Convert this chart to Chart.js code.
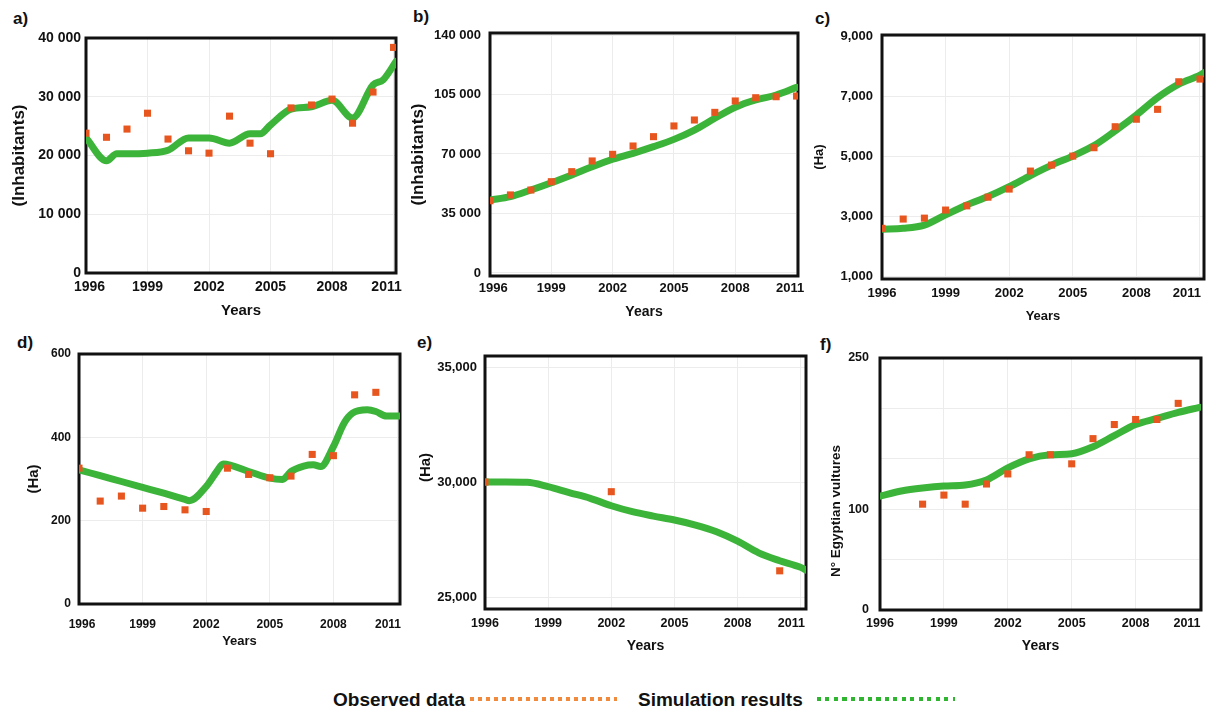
<!DOCTYPE html>
<html>
<head>
<meta charset="utf-8">
<script src="https://cdn.jsdelivr.net/npm/chart.js@4.4.1/dist/chart.umd.min.js"></script>
<style>
  body { margin: 0; background: #fff; width: 1210px; height: 710px; position: relative; overflow: hidden; font-family: 'Liberation Sans', Arial, sans-serif; }
  canvas { position: absolute; }
  .tag { position: absolute; font: bold 17px 'Liberation Sans', Arial, sans-serif; color: #111; }
  .leg { position: absolute; font: bold 19px 'Liberation Sans', Arial, sans-serif; line-height: 19px; color: #111; white-space: nowrap; }
  .dots { position: absolute; height: 4px; }
</style>
</head>
<body>
<div class="tag" style="left:13px; top:9px;">a)</div>
<div class="tag" style="left:413px; top:7px;">b)</div>
<div class="tag" style="left:815px; top:9px;">c)</div>
<div class="tag" style="left:17px; top:333px;">d)</div>
<div class="tag" style="left:417px; top:333px;">e)</div>
<div class="tag" style="left:820px; top:335px;">f)</div>

<canvas id="ca" width="420" height="330" style="left:0; top:0;"></canvas>
<canvas id="cb" width="420" height="330" style="left:405px; top:0;"></canvas>
<canvas id="cc" width="400" height="330" style="left:810px; top:0;"></canvas>
<canvas id="cd" width="420" height="335" style="left:0; top:330px;"></canvas>
<canvas id="ce" width="420" height="335" style="left:405px; top:330px;"></canvas>
<canvas id="cf" width="400" height="335" style="left:810px; top:330px;"></canvas>

<div class="leg" style="left:333px; top:690px;">Observed data</div>
<div class="dots" style="left:470px; top:697px; width:147px; background: repeating-linear-gradient(to right, #f08a3c 0 4px, transparent 4px 8px);"></div>
<div class="leg" style="left:638px; top:690px;">Simulation results</div>
<div class="dots" style="left:817px; top:697px; width:138px; background: repeating-linear-gradient(to right, #2fb52f 0 4px, transparent 4px 8.5px);"></div>

<script>
'use strict';

const ORANGE = '#e8561f';
const GREEN = '#3cb43a';

// x ticks shared by every panel
const yearTicks = [1996, 1999, 2002, 2005, 2008, 2011];

// a) inhabitants
const obsYearsA = [1996, 1997, 1998, 1999, 2000, 2001, 2002, 2003, 2004, 2005, 2006, 2007, 2008, 2009, 2010, 2011];
const obsA = [23800, 23100, 24500, 27200, 22800, 20800, 20400, 26700, 22100, 20300, 28100, 28600, 29600, 25500, 30800, 38400];
const simYearsA = [1996, 1997, 1997.5, 1998, 1999, 2000, 2001, 2002, 2003, 2004, 2004.5, 2005, 2006, 2007, 2008, 2009, 2010, 2010.5, 2011.12];
const simA = [23000, 19100, 20300, 20300, 20400, 20900, 23000, 23000, 22100, 23700, 23700, 25200, 27900, 28300, 29400, 26400, 32000, 32900, 36000];
const yTicksA = [0, 10000, 20000, 30000, 40000];

// b) inhabitants
const obsYearsB = [1996, 1997, 1998, 1999, 2000, 2001, 2002, 2003, 2004, 2005, 2006, 2007, 2008, 2009, 2010, 2011];
const obsB = [42500, 45900, 48800, 53700, 59600, 65900, 69800, 74700, 80200, 86500, 90000, 94500, 101200, 103100, 103700, 104100];
const simYearsB = [1996, 1997, 1998, 1999, 2000, 2001, 2002, 2003, 2004, 2005, 2006, 2007, 2008, 2009, 2010, 2011];
const simB = [42900, 44900, 48800, 53100, 57700, 62500, 66900, 70400, 74300, 78600, 84100, 91000, 97500, 101800, 104700, 109200];
const yTicksB = [0, 35000, 70000, 105000, 140000];

// c) hectares
const obsYearsC = [1996, 1997, 1998, 1999, 2000, 2001, 2002, 2003, 2004, 2005, 2006, 2007, 2008, 2009, 2010, 2011];
const obsC = [2610, 2920, 2950, 3220, 3360, 3650, 3920, 4520, 4720, 5020, 5300, 6000, 6250, 6580, 7500, 7590];
const simYearsC = [1996, 1997, 1998, 1999, 2000, 2001, 2002, 2003, 2004, 2005, 2006, 2007, 2008, 2009, 2010, 2011, 2011.19];
const simC = [2580, 2610, 2720, 3060, 3390, 3670, 4000, 4370, 4720, 5020, 5370, 5860, 6390, 6970, 7420, 7720, 7800];
const yTicksC = [1000, 3000, 5000, 7000, 9000];

// d) hectares
const obsYearsD = [1996, 1997, 1998, 1999, 2000, 2001, 2002, 2003, 2004, 2005, 2006, 2007, 2008, 2009, 2010];
const obsD = [326, 247, 259, 230, 234, 226, 222, 326, 311, 303, 307, 359, 356, 502, 508];
const simYearsD = [1996, 1997, 1998, 1999, 2000, 2001, 2001.2, 2002, 2002.5, 2002.8, 2004, 2005, 2005.6, 2006, 2006.6, 2007.05, 2007.4, 2008, 2008.5, 2008.9, 2009.6, 2010, 2010.5, 2011.14];
const simD = [322, 308, 294, 280, 266, 251, 248, 282, 318, 336, 318, 302, 299, 318, 331, 334, 330, 378, 434, 458, 466, 462, 451, 451];
const yTicksD = [0, 200, 400, 600];

// e) hectares
const obsYearsE = [1996, 2002, 2010];
const obsE = [30000, 29580, 26140];
const simYearsE = [1996, 1997, 1998, 1999, 2000, 2001, 2002, 2003, 2004, 2005, 2006, 2007, 2008, 2009, 2010, 2011, 2011.25];
const simE = [30000, 30000, 29990, 29800, 29540, 29290, 28970, 28710, 28520, 28350, 28130, 27840, 27430, 26920, 26580, 26290, 26170];
const yTicksE = [25000, 30000, 35000];

// f) Egyptian vultures
const obsYearsF = [1998, 1999, 2000, 2001, 2002, 2003, 2004, 2005, 2006, 2007, 2008, 2009, 2010];
const obsF = [105, 114, 105, 125, 135, 154, 154, 145, 170, 184, 189, 189, 205];
const simYearsF = [1996, 1997, 1998, 1999, 2000, 2001, 2002, 2003, 2004, 2005, 2006, 2007, 2008, 2009, 2010, 2011];
const simF = [113, 118, 121, 123, 124, 129, 141, 150, 154, 155, 162, 173, 184, 190, 196, 201];
const yTicksF = [0, 50, 100, 150, 200, 250];
const yLabelsF = [0, 100, 250];

const FONT = "'Liberation Sans', Arial, sans-serif";
const EN = '\u2002';

function pairs(xs, ys) {
  return xs.map((x, i) => ({ x: x, y: ys[i] }));
}

function fmt(v, sep) {
  const s = String(v);
  if (!sep) return s;
  return s.replace(/\B(?=(\d{3})+(?!\d))/g, sep);
}

// end year labels sit a little inside the frame, as in the original figure
function yearLabel(v, p) {
  if (v === yearTicks[0]) return EN.repeat(p.firstIn) + v;
  if (v === yearTicks[yearTicks.length - 1]) return v + EN.repeat(p.lastIn);
  return String(v);
}

// thick black frame round the plot area, drawn under the marks
const framePlugin = {
  id: 'frame',
  beforeDatasetsDraw(chart) {
    const a = chart.chartArea;
    const c = chart.ctx;
    c.save();
    c.strokeStyle = '#111';
    c.lineWidth = 3;
    c.strokeRect(a.left, a.top, a.right - a.left, a.bottom - a.top);
    c.restore();
  }
};

function panel(id, p) {
  const ctx = document.getElementById(id).getContext('2d');
  return new Chart(ctx, {
    type: 'scatter',
    data: {
      datasets: [{
        label: 'Observed data',
        data: pairs(p.obsX, p.obsY),
        pointStyle: 'rect',
        pointRadius: 5,
        backgroundColor: ORANGE,
        borderWidth: 0,
        order: 0
      }, {
        label: 'Simulation results',
        data: pairs(p.simX, p.simY),
        showLine: true,
        borderColor: GREEN,
        borderWidth: 7,
        pointRadius: 0,
        cubicInterpolationMode: 'monotone',
        borderCapStyle: 'round',
        borderJoinStyle: 'round',
        order: 1
      }]
    },
    options: {
      animation: false,
      responsive: false,
      devicePixelRatio: 1,
      layout: { padding: { left: 0, top: p.top, right: p.right, bottom: 0 } },
      plugins: { legend: { display: false }, tooltip: { enabled: false } },
      scales: {
        x: {
          type: 'linear',
          min: 1996,
          max: p.xMax,
          afterBuildTicks: s => { s.ticks = yearTicks.map(v => ({ value: v })); },
          afterFit: s => { s.height = p.xh; s.paddingLeft = 0; s.paddingRight = 0; },
          grid: { color: '#ececec', lineWidth: 1, drawTicks: false },
          border: { display: false },
          ticks: {
            color: '#111', padding: p.xPad, maxRotation: 0, autoSkip: false,
            font: { family: FONT, size: p.tickSize, weight: 'bold' },
            callback: v => yearLabel(v, p)
          },
          title: {
            display: true, text: 'Years', color: '#111',
            font: { family: FONT, size: p.xTitleSize, weight: 'bold' },
            padding: { top: 0, bottom: p.xTitlePad }
          }
        },
        y: {
          type: 'linear',
          min: p.yMin,
          max: p.yMax,
          afterBuildTicks: s => { s.ticks = p.yTicks.map(v => ({ value: v })); },
          afterFit: s => { s.width = p.yw; s.paddingTop = 0; s.paddingBottom = 0; },
          grid: { color: '#ececec', lineWidth: 1, drawTicks: false },
          border: { display: false },
          ticks: {
            color: '#111', padding: p.yPad, autoSkip: false,
            font: { family: FONT, size: p.yTickSize, weight: 'bold' },
            callback: v => (p.yLabels && p.yLabels.indexOf(v) < 0) ? '' : fmt(v, p.sep)
          },
          title: {
            display: true, text: p.yTitle, color: '#111',
            font: { family: FONT, size: p.yTitleSize, weight: 'bold' },
            padding: { top: p.yTitlePad, bottom: 0 }
          }
        }
      }
    },
    plugins: [framePlugin]
  });
}

panel('ca', {
  obsX: obsYearsA, obsY: obsA, simX: simYearsA, simY: simA,
  yTicks: yTicksA, yMin: 0, yMax: 40000, xMax: 2011.12, sep: ' ',
  top: 38, right: 24, yw: 86, xh: 57, xPad: 6, yPad: 5, firstIn: 1, lastIn: 2,
  tickSize: 14, yTickSize: 14, xTitleSize: 15, xTitlePad: 10,
  yTitle: '(Inhabitants)', yTitleSize: 17, yTitlePad: 9
});

panel('cb', {
  obsX: obsYearsB, obsY: obsB, simX: simYearsB, simY: simB,
  yTicks: yTicksB, yMin: -1800, yMax: 141200, xMax: 2011.07, sep: ' ',
  top: 33, right: 27, yw: 85, xh: 54, xPad: 5, yPad: 9, firstIn: 1, lastIn: 2,
  tickSize: 13, yTickSize: 13, xTitleSize: 14, xTitlePad: 9,
  yTitle: '(Inhabitants)', yTitleSize: 17, yTitlePad: 3
});

panel('cc', {
  obsX: obsYearsC, obsY: obsC, simX: simYearsC, simY: simC,
  yTicks: yTicksC, yMin: 920, yMax: 9060, xMax: 2011.19, sep: ',',
  top: 35, right: 6, yw: 72, xh: 51, xPad: 7, yPad: 9, firstIn: 0, lastIn: 4,
  tickSize: 13, yTickSize: 13, xTitleSize: 13, xTitlePad: 6,
  yTitle: '(Ha)', yTitleSize: 13, yTitlePad: 2
});

panel('cd', {
  obsX: obsYearsD, obsY: obsD, simX: simYearsD, simY: simD,
  yTicks: yTicksD, yMin: 0, yMax: 600, xMax: 2011.14, sep: '',
  top: 24, right: 20, yw: 79, xh: 61, xPad: 13, yPad: 8, firstIn: 1, lastIn: 3,
  tickSize: 12, yTickSize: 12, xTitleSize: 13, xTitlePad: 16,
  yTitle: '(Ha)', yTitleSize: 15, yTitlePad: 25
});

panel('ce', {
  obsX: obsYearsE, obsY: obsE, simX: simYearsE, simY: simE,
  yTicks: yTicksE, yMin: 24480, yMax: 35480, xMax: 2011.25, sep: ',',
  top: 26, right: 19, yw: 80, xh: 56, xPad: 7, yPad: 8, firstIn: 0, lastIn: 3,
  tickSize: 12.5, yTickSize: 13, xTitleSize: 14, xTitlePad: 10,
  yTitle: EN.repeat(4) + '(Ha)', yTitleSize: 15, yTitlePad: 12
});

panel('cf', {
  obsX: obsYearsF, obsY: obsF, simX: simYearsF, simY: simF,
  yTicks: yTicksF, yLabels: yLabelsF, yMin: 0, yMax: 250, xMax: 2011.07, sep: '',
  top: 28, right: 9, yw: 70, xh: 55, xPad: 6, yPad: 11, firstIn: 0, lastIn: 4,
  tickSize: 12.5, yTickSize: 12.5, xTitleSize: 14, xTitlePad: 10,
  yTitle: 'N\u00b0 Egyptian vultures' + EN.repeat(8), yTitleSize: 13.5, yTitlePad: 18
});
</script>
</body>
</html>
